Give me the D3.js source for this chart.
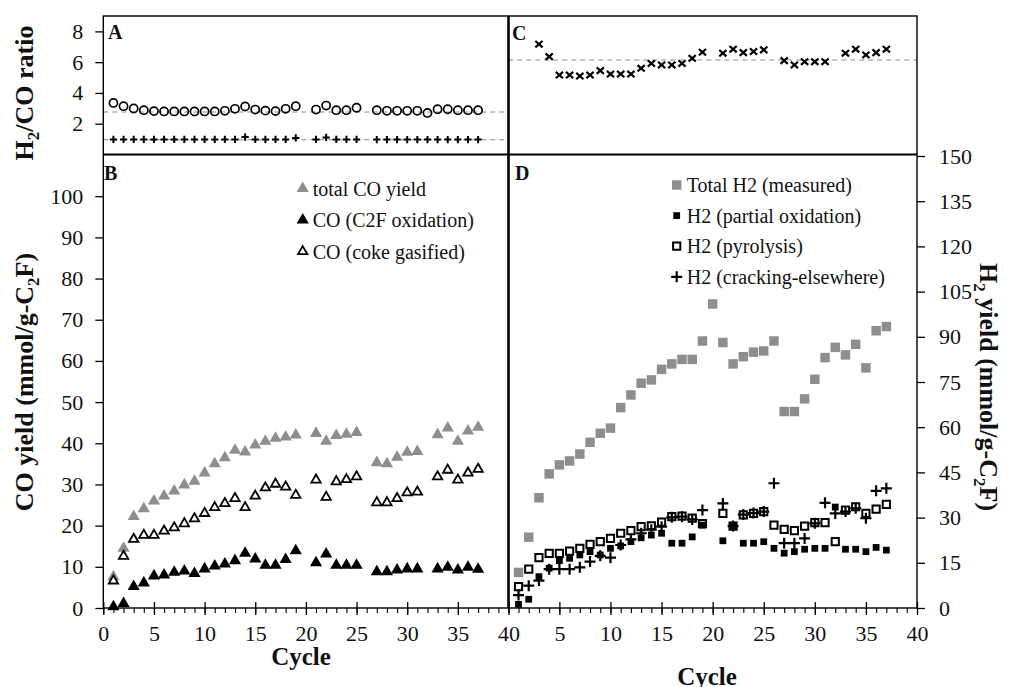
<!DOCTYPE html>
<html><head><meta charset="utf-8">
<script src="https://cdn.jsdelivr.net/npm/d3@7"></script>
<style>
body{margin:0;background:#fff;}
text{font-family:"Liberation Serif","Times New Roman",serif;fill:#111;}
</style></head>
<body><svg id="c" width="1016" height="687"></svg>
<script>
// ---------------- data ----------------
const cycles = [1,2,3,4,5,6,7,8,9,10,11,12,13,14,15,16,17,18,19,20,21,22,23,24,25,26,27,28,29,30,31,32,33,34,35,36,37];

// Panel A: H2/CO ratio
const ratioA = [3.35,3.14,2.99,2.88,2.82,2.80,2.80,2.80,2.80,2.80,2.80,2.84,2.97,3.12,2.92,2.85,2.82,2.97,3.14,null,2.92,3.18,2.88,2.88,3.04,null,2.88,2.84,2.84,2.84,2.84,2.70,2.94,2.94,2.88,2.88,2.88];
const ratioAplus = [0.98,0.98,0.98,0.98,0.98,0.98,0.98,0.98,0.98,0.98,0.98,0.98,0.98,1.13,0.98,0.98,0.98,0.98,1.08,null,0.98,1.11,0.98,0.98,0.98,null,0.97,0.97,0.97,0.97,0.97,0.97,0.97,0.97,0.97,0.97,0.97];
const refA = [2.76, 0.96];

// Panel C
const ratioC = [null,null,7.17,6.36,5.16,5.16,5.10,5.16,5.45,5.23,5.23,5.23,5.60,5.92,5.82,5.82,5.92,6.25,6.65,null,6.58,6.84,6.62,6.69,6.80,null,6.10,5.82,6.03,6.03,6.03,null,6.58,6.84,6.47,6.62,6.84];
const refC = [6.14];

// Panel B: CO yield
const totalCO = [7.6,14.5,22.2,24.1,26.0,27.2,28.4,29.9,30.8,32.8,35.0,36.5,38.3,37.9,39.6,40.5,41.2,41.5,42.0,null,42.4,40.5,41.9,42.2,42.6,null,35.3,35.0,36.6,37.8,38.0,null,42.1,43.7,40.5,43.0,43.9];
const coC2F = [0.3,1.1,5.2,6.1,7.8,8.0,8.7,9.0,8.4,9.5,10.2,10.7,11.5,13.3,11.9,10.4,10.4,11.8,13.9,null,11.0,13.1,10.4,10.4,10.4,null,8.8,8.8,9.2,9.5,9.5,null,9.5,9.9,9.2,9.9,9.4];
const coCoke = [6.6,12.6,16.7,17.7,17.7,18.7,19.5,20.5,21.7,23.0,24.4,25.4,26.6,24.4,27.2,29.2,30.1,29.4,27.4,null,31.1,26.9,30.7,31.2,31.9,null,25.6,25.6,26.6,28.0,28.2,null,31.9,33.5,31.1,32.8,33.7];

// Panel D: H2 yield
const totalH2 = [11.8,23.5,36.6,44.5,47.5,48.8,51.1,55.0,58.0,59.7,66.5,70.7,74.6,75.7,79.2,81.0,82.5,82.5,88.6,100.9,88.1,81.0,83.4,84.9,85.3,88.6,65.2,65.2,69.4,75.9,83.1,86.5,84.0,87.5,79.7,92.0,93.4];
const h2Partial = [1.2,2.9,10.4,13.2,15.7,16.5,17.6,18.7,17.6,19.8,20.6,22.0,23.3,24.2,24.8,21.5,21.5,23.6,27.5,null,22.3,27.2,21.5,21.5,22.0,19.8,18.2,18.7,19.5,19.8,19.8,33.5,19.5,19.5,18.7,20.1,19.2];
const h2Pyro = [7.1,12.9,16.7,18.1,18.1,18.9,19.8,21.1,22.0,23.1,24.8,25.7,27.0,27.3,28.5,30.3,30.5,29.8,28.0,null,31.4,27.2,30.9,31.4,32.0,27.5,26.1,25.7,27.2,28.3,28.3,22.0,32.5,33.6,31.4,32.8,34.4];
const h2Crack = [4.3,7.4,9.1,12.9,12.9,12.9,13.5,15.4,17.3,16.7,20.9,22.8,24.8,26.0,27.0,30.1,30.3,29.4,32.5,null,34.7,27.2,31.0,31.5,32.0,41.4,21.5,21.5,23.1,28.1,34.9,31.4,32.0,33.1,29.8,38.9,39.7];

// ticks / labels
const xTicksL = [0,5,10,15,20,25,30,35,40];
const xTicksR = [5,10,15,20,25,30,35,40];
const xMinor = [0,1,2,3,4,5,6,7,8,9,10,11,12,13,14,15,16,17,18,19,20,21,22,23,24,25,26,27,28,29,30,31,32,33,34,35,36,37,38,39,40];
const yTicksA = [2,4,6,8];
const yTicksB = [0,10,20,30,40,50,60,70,80,90,100];
const yTicksD = [0,15,30,45,60,75,90,105,120,135,150];
const legendB = ["total CO yield","CO (C2F oxidation)","CO (coke gasified)"];
const legendD = ["Total H2 (measured)","H2 (partial oxidation)","H2 (pyrolysis)","H2 (cracking-elsewhere)"];

// ---------------- drawing ----------------
const svg = d3.select("#c");
const GRAY = "#8e8e8e";
const xL = d3.scaleLinear().domain([0,40]).range([103.3,508.5]);
const xR = d3.scaleLinear().domain([0,40]).range([508.3,917]);
const yTop = d3.scaleLinear().domain([0,9]).range([154.5,16]);
const yB = d3.scaleLinear().domain([0,110]).range([608,155]);
const yD = d3.scaleLinear().domain([0,150]).range([608,156]);

const sym = {
  tri: d3.symbol(d3.symbolTriangle, 64)(),
  triOpen: d3.symbol(d3.symbolTriangle, 38)(),
  sqBig: d3.symbol(d3.symbolSquare, 90)(),
  sqBlack: d3.symbol(d3.symbolSquare, 46)(),
  sqOpen: d3.symbol(d3.symbolSquare, 52)(),
  circ: d3.symbol(d3.symbolCircle, 52)(),
  plusBig: "M-5.5,0H5.5M0,-5.5V5.5",
  plusSmall: "M-3.6,0H3.6M0,-3.6V3.6",
  cross: "M-3.6,-3.2L3.6,3.2M-3.6,3.2L3.6,-3.2"
};
const styles = {
  gtri:   {d: sym.tri, fill: GRAY, stroke: "none", sw: 0},
  btri:   {d: sym.tri, fill: "#000", stroke: "none", sw: 0},
  otri:   {d: sym.triOpen, fill: "#fff", stroke: "#000", sw: 1.8},
  gsq:    {d: sym.sqBig, fill: GRAY, stroke: "none", sw: 0},
  bsq:    {d: sym.sqBlack, fill: "#000", stroke: "none", sw: 0},
  osq:    {d: sym.sqOpen, fill: "none", stroke: "#000", sw: 2},
  plusD:  {d: sym.plusBig, fill: "none", stroke: "#000", sw: 2.2},
  plusA:  {d: sym.plusSmall, fill: "none", stroke: "#000", sw: 2},
  circ:   {d: sym.circ, fill: "none", stroke: "#000", sw: 1.7},
  cross:  {d: sym.cross, fill: "none", stroke: "#000", sw: 2.2}
};

function series(arr, xs, ys, st) {
  const pts = cycles.map((c,i)=>({c, v: arr[i]})).filter(d=>d.v!=null);
  svg.append("g").selectAll("path").data(pts).join("path")
    .attr("transform", d=>`translate(${xs(d.c)},${ys(d.v)})`)
    .attr("d", st.d).attr("fill", st.fill).attr("stroke", st.stroke)
    .attr("stroke-width", st.sw);
}

// dashed reference lines
svg.append("g").selectAll("line").data(refA).join("line")
  .attr("x1", xL(0)).attr("x2", xL(40)).attr("y1", d=>yTop(d)).attr("y2", d=>yTop(d))
  .attr("stroke", "#8a8a8a").attr("stroke-width", 1).attr("stroke-dasharray", "5,4");
svg.append("g").selectAll("line").data(refC).join("line")
  .attr("x1", xR(0)).attr("x2", xR(40)).attr("y1", d=>yTop(d)).attr("y2", d=>yTop(d))
  .attr("stroke", "#8a8a8a").attr("stroke-width", 1).attr("stroke-dasharray", "5,4");

// axes helpers
function styleAxis(g) {
  g.select(".domain").remove();
  g.attr("font-family", null);
  g.selectAll("line").attr("stroke", "#000").attr("stroke-width", 1.3);
  g.selectAll("text").attr("font-size", 22).attr("fill", "#222")
    .style("font-family", "'Liberation Serif','Times New Roman',serif");
}
// left axis B
svg.append("g").attr("transform", `translate(${xL(0)},0)`)
  .call(d3.axisLeft(yB).tickValues(yTicksB).tickSize(8).tickPadding(12)).call(styleAxis);
// left axis A
svg.append("g").attr("transform", `translate(${xL(0)},0)`)
  .call(d3.axisLeft(yTop).tickValues(yTicksA).tickSize(8).tickPadding(12)).call(styleAxis);
// right axis D
svg.append("g").attr("transform", `translate(${xR(40)},0)`)
  .call(d3.axisRight(yD).tickValues(yTicksD).tickSize(8).tickPadding(14)).call(styleAxis);
// bottom axes
function bottom(xs, ticks) {
  const g = svg.append("g").attr("transform", `translate(0,${yB(0)})`)
    .call(d3.axisBottom(xs).tickValues(ticks).tickSize(7).tickPadding(10)).call(styleAxis);
  g.selectAll(".tick line").attr("y1", -6).attr("y2", 7);
  const m = svg.append("g").attr("transform", `translate(0,${yB(0)})`)
    .call(d3.axisBottom(xs).tickValues(xMinor).tickSize(5).tickFormat(""));
  m.select(".domain").remove();
  m.selectAll("line").attr("stroke", "#000").attr("stroke-width", 1.1);
}
bottom(xL, xTicksL);
bottom(xR, xTicksR);

// frames
const fr = svg.append("g").attr("fill", "none").attr("stroke", "#000");
fr.append("rect").attr("x", xL(0)).attr("y", yTop(9)).attr("width", xR(40)-xL(0)).attr("height", yB(0)-yTop(9)).attr("stroke-width", 1.4);
fr.append("line").attr("x1", xL(0)).attr("x2", xR(40)).attr("y1", yTop(0)).attr("y2", yTop(0)).attr("stroke-width", 2.2);
fr.append("line").attr("x1", xL(40)).attr("x2", xL(40)).attr("y1", yTop(9)).attr("y2", yB(0)).attr("stroke-width", 2.6);

// markers
series(ratioA, xL, yTop, styles.circ);
series(ratioAplus, xL, yTop, styles.plusA);
series(ratioC, xR, yTop, styles.cross);
series(totalCO, xL, yB, styles.gtri);
series(coC2F, xL, yB, styles.btri);
series(coCoke, xL, yB, styles.otri);
series(totalH2, xR, yD, styles.gsq);
series(h2Pyro, xR, yD, styles.osq);
series(h2Partial, xR, yD, styles.bsq);
series(h2Crack, xR, yD, styles.plusD);

// legends
function legend(items, sts, x0, y0, dy) {
  const g = svg.append("g");
  items.forEach((t,i)=>{
    const st = sts[i];
    g.append("path").attr("transform", `translate(${x0},${y0+i*dy})`)
      .attr("d", st.d).attr("fill", st.fill).attr("stroke", st.stroke).attr("stroke-width", st.sw);
    g.append("text").attr("x", x0+10).attr("y", y0+i*dy+7).attr("font-size", 20).attr("fill", "#222").text(t);
  });
}
legend(legendB, [styles.gtri, styles.btri, styles.otri], 302.7, 188.5, 31.5);
legend(legendD, [styles.gsq, styles.bsq, styles.osq, styles.plusD], 676.7, 185, 30.6);

// panel letters
const letters = [["A",108,39],["B",104,180],["C",512,40],["D",515,180]];
svg.append("g").selectAll("text").data(letters).join("text")
  .attr("x", d=>d[1]).attr("y", d=>d[2]).attr("font-size", 20).attr("font-weight", "bold").text(d=>d[0]);

// axis titles
const t1 = svg.append("text").attr("transform", "translate(33,93) rotate(-90)")
  .attr("text-anchor", "middle").attr("font-size", 26).attr("font-weight", "bold");
t1.append("tspan").text("H");
t1.append("tspan").attr("font-size", 17).attr("dy", 6).text("2");
t1.append("tspan").attr("dy", -6).text("/CO ratio");

const t2 = svg.append("text").attr("transform", "translate(33,382) rotate(-90)")
  .attr("text-anchor", "middle").attr("font-size", 26).attr("font-weight", "bold");
t2.append("tspan").text("CO yield (mmol/g-C");
t2.append("tspan").attr("font-size", 17).attr("dy", 6).text("2");
t2.append("tspan").attr("dy", -6).text("F)");

const t3 = svg.append("text").attr("transform", "translate(980,387) rotate(90)")
  .attr("text-anchor", "middle").attr("font-size", 26).attr("font-weight", "bold");
t3.append("tspan").text("H");
t3.append("tspan").attr("font-size", 17).attr("dy", 6).text("2");
t3.append("tspan").attr("dy", -6).text(" yield (mmol/g-C");
t3.append("tspan").attr("font-size", 17).attr("dy", 6).text("2");
t3.append("tspan").attr("dy", -6).text("F)");

svg.append("text").attr("x", 301).attr("y", 665).attr("text-anchor", "middle")
  .attr("font-size", 25).attr("font-weight", "bold").text("Cycle");
svg.append("text").attr("x", 707).attr("y", 685).attr("text-anchor", "middle")
  .attr("font-size", 25).attr("font-weight", "bold").text("Cycle");
</script>
</body></html>
